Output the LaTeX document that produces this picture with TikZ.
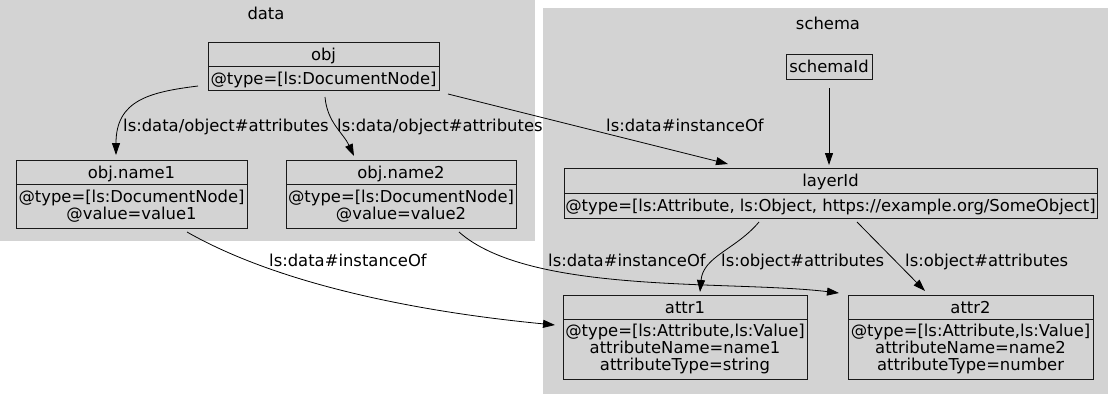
\documentclass[tikz,border=0pt]{standalone}
\usepackage{fontspec}
\setmainfont{DejaVu Sans}
\usetikzlibrary{positioning, arrows.meta}
\definecolor{clustergray}{RGB}{211,211,211}

\begin{document}
\begin{tikzpicture}[x=1pt, y=1pt, font=\fontsize{16.4}{17}\selectfont,
        rec/.style={draw=black!90, line width=0.8pt, inner sep=0pt, outer sep=0pt, align=center},
        head/.style={rec, minimum height=24pt, text height=12pt, text depth=0pt},
        lbl/.style={inner sep=0pt, anchor=base west},
        edge/.style={black, line width=0.8pt, -{Triangle[length=12pt, width=8pt]}}]
            \useasboundingbox (0,0) rectangle (1112,-394);
            \fill[clustergray] (0,0) rectangle (535,-241);
            \fill[clustergray] (543,-8) rectangle (1108,-394);
            \node (datattl) at (266,-13) {data};
            \node (schemattl) at (828,-23) {schema};
            %
            \node[head, minimum width=231pt, anchor=north] (obj) at (323.5,-42) {obj};
            \node[head, minimum width=231pt, below=0pt of obj] (objb) {@type=[ls:DocumentNode]};
            %
            \node[head, minimum width=231pt, anchor=north] (name1) at (131.5,-160) {obj.name1};
            \node[rec, minimum width=231pt, minimum height=44pt, below=0pt of name1] (name1b) {@type=[ls:DocumentNode]\\@value=value1};
            \node[head, minimum width=230pt, anchor=north] (name2) at (401,-160) {obj.name2};
            \node[rec, minimum width=230pt, minimum height=44pt, below=0pt of name2] (name2b) {@type=[ls:DocumentNode]\\@value=value2};
            %
            \node[head, minimum width=86pt, minimum height=25pt, anchor=north] (schemaid) at (829,-54) {schemaId};
            \node[head, minimum width=533pt, minimum height=25pt, anchor=north] (layer) at (830.5,-168) {layerId};
            \node[head, minimum width=533pt, minimum height=25pt, below=0pt of layer] (layerb) {@type=[ls:Attribute, ls:Object, https://example.org/SomeObject]};
            %
            \node[head, minimum width=244pt, anchor=north] (attr1) at (685,-295) {attr1};
            \node[rec, minimum width=244pt, minimum height=60pt, below=0pt of attr1] (attr1b) {@type=[ls:Attribute,ls:Value]\\attributeName=name1\\attributeType=string};
            \node[head, minimum width=245pt, anchor=north] (attr2) at (970.5,-295) {attr2};
            \node[rec, minimum width=245pt, minimum height=60pt, below=0pt of attr2] (attr2b) {@type=[ls:Attribute,ls:Value]\\attributeName=name2\\attributeType=number};
            %
            \draw[edge] ([shift={(-10,4)}]objb.south west) .. controls +(-48,-6) and +(0,55) .. ([shift={(-15.5,5)}]name1.north);
            \draw[edge] ([shift={(1.5,-7)}]objb.south) to[out=-85, in=115] ([shift={(-47,4)}]name2.north);
            \draw[edge] ([shift={(9,-4)}]objb.south east) -- ([shift={(-102.5,4)}]layer.north);
            \draw[edge] ([shift={(0,-9)}]schemaid.south) -- ([yshift=3pt]schemaid.south |- layer.north);
            \draw[edge] ([shift={(-71.5,-4)}]layerb.south) to[out=-130, in=85] ([shift={(15,3)}]attr1.north);
            \draw[edge] ([shift={(26.5,-4)}]layerb.south) -- ([shift={(-45.5,4)}]attr2.north);
            \draw[edge] ([shift={(55.5,-4)}]name1b.south) .. controls +(93,-53) and +(-135,13) .. ([shift={(-8,-6)}]attr1b.north west);
            \draw[edge] ([shift={(58,-4)}]name2b.south) .. controls +(71,-63) and +(-109,13) .. ([shift={(-9,2)}]attr2.north west);
            %
            \node[lbl] (l1) at (123,-131) {ls:data/object\#attributes};
            \node[lbl] (l2) at (337,-131) {ls:data/object\#attributes};
            \node[lbl] (l3) at (606,-131) {ls:data\#instanceOf};
            \node[lbl] (l4) at (721,-266) {ls:object\#attributes};
            \node[lbl] (l5) at (905,-266) {ls:object\#attributes};
            \node[lbl] (l6) at (269,-266) {ls:data\#instanceOf};
            \node[lbl] (l7) at (548,-266) {ls:data\#instanceOf};
        \end{tikzpicture}
\end{document}
